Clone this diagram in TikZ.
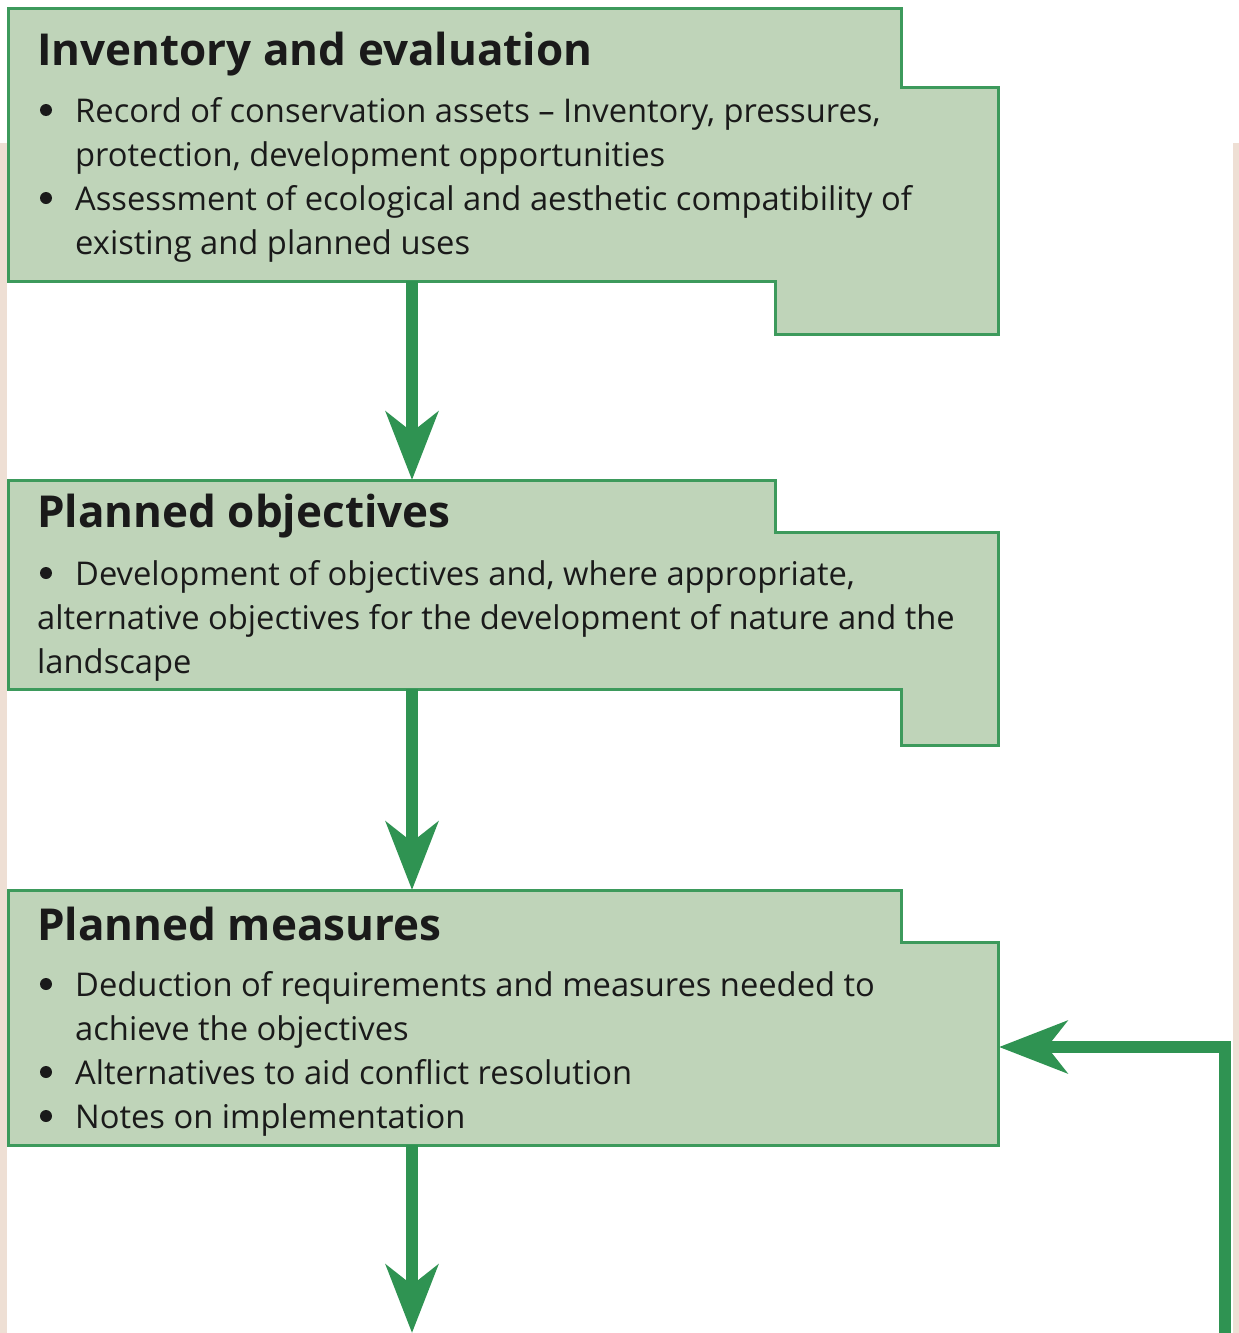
\documentclass[tikz,border=0pt]{standalone}
\usepackage{fontspec}
\setmainfont{Open Sans}
\usetikzlibrary{arrows.meta}
\definecolor{boxfill}{HTML}{BFD4B9}
\definecolor{edge}{HTML}{3D9A5C}
\definecolor{arr}{HTML}{2F9352}
\definecolor{strip}{HTML}{EEDFD4}
\definecolor{ink}{HTML}{1A1A1A}
\begin{document}
\begin{tikzpicture}[x=1pt,y=-1pt,
 box/.style={draw=edge, fill=boxfill, line width=3pt, line join=miter},
 title/.style={anchor=base west, inner sep=0, font=\fontsize{44}{52}\selectfont\bfseries, text=ink},
 body/.style={anchor=base west, inner sep=0, font=\fontsize{32.7}{44}\selectfont, text=ink},
 dot/.style={circle, fill=ink, inner sep=0, minimum size=12pt},
 flow/.style={draw=arr, line width=12pt, line join=miter, -{Stealth[length=68pt,width=52pt,inset=20pt]}}]
\useasboundingbox (0,0) rectangle (1239,1333);
\fill[white] (0,0) rectangle (1239,1333);
\fill[strip] (0,143) rectangle (7,1333);
\fill[strip] (1233,143) rectangle (1239,1333);
% boxes
\draw[box] (8,8) -- (901,8) -- (901,87) -- (998,87) -- (998,334) -- (775,334) -- (775,281) -- (8,281) -- cycle;
\draw[box] (8,480) -- (775,480) -- (775,532) -- (998,532) -- (998,745) -- (901,745) -- (901,689) -- (8,689) -- cycle;
\draw[box] (8,890) -- (901,890) -- (901,942) -- (998,942) -- (998,1145) -- (8,1145) -- cycle;
% anchor points
\coordinate (inv-s) at (412,281);
\coordinate (obj-n) at (412,480);
\coordinate (obj-s) at (412,689);
\coordinate (mea-n) at (412,890);
\coordinate (mea-s) at (412,1145);
\coordinate (out) at (412,1333);
\coordinate (fb-in) at (1225,1333);
\coordinate (mea-e) at (999,1047);
% box 1 text
\node[title] (t1) at (37,65) {Inventory and evaluation};
\node[dot] (d1a) at (46,110) {};
\node[body] (l1a) at (75,122) {Record of conservation assets – Inventory, pressures,};
\node[body] (l1b) at (75,166) {protection, development opportunities};
\node[dot] (d1b) at (46,198) {};
\node[body] (l1c) at (75,210) {Assessment of ecological and aesthetic compatibility of};
\node[body] (l1d) at (75,254) {existing and planned uses};
% box 2 text
\node[title] (t2) at (37,527) {Planned objectives};
\node[dot] (d2a) at (46,573) {};
\node[body] (l2a) at (75,585) {Development of objectives and, where appropriate,};
\node[body] (l2b) at (37,629) {alternative objectives for the development of nature and the};
\node[body] (l2c) at (37,673) {landscape};
% box 3 text
\node[title] (t3) at (37,940) {Planned measures};
\node[dot] (d3a) at (46,984) {};
\node[body] (l3a) at (75,996) {Deduction of requirements and measures needed to};
\node[body] (l3b) at (75,1040) {achieve the objectives};
\node[dot] (d3b) at (46,1072) {};
\node[body] (l3c) at (75,1084) {Alternatives to aid conflict resolution};
\node[dot] (d3c) at (46,1116) {};
\node[body] (l3d) at (75,1128) {Notes on implementation};
% connectors
\draw[flow] (inv-s) -- (obj-n);
\draw[flow] (obj-s) -- (mea-n);
\draw[flow] (mea-s) -- (out);
\draw[flow] (fb-in) |- (mea-e);
\end{tikzpicture}
\end{document}
